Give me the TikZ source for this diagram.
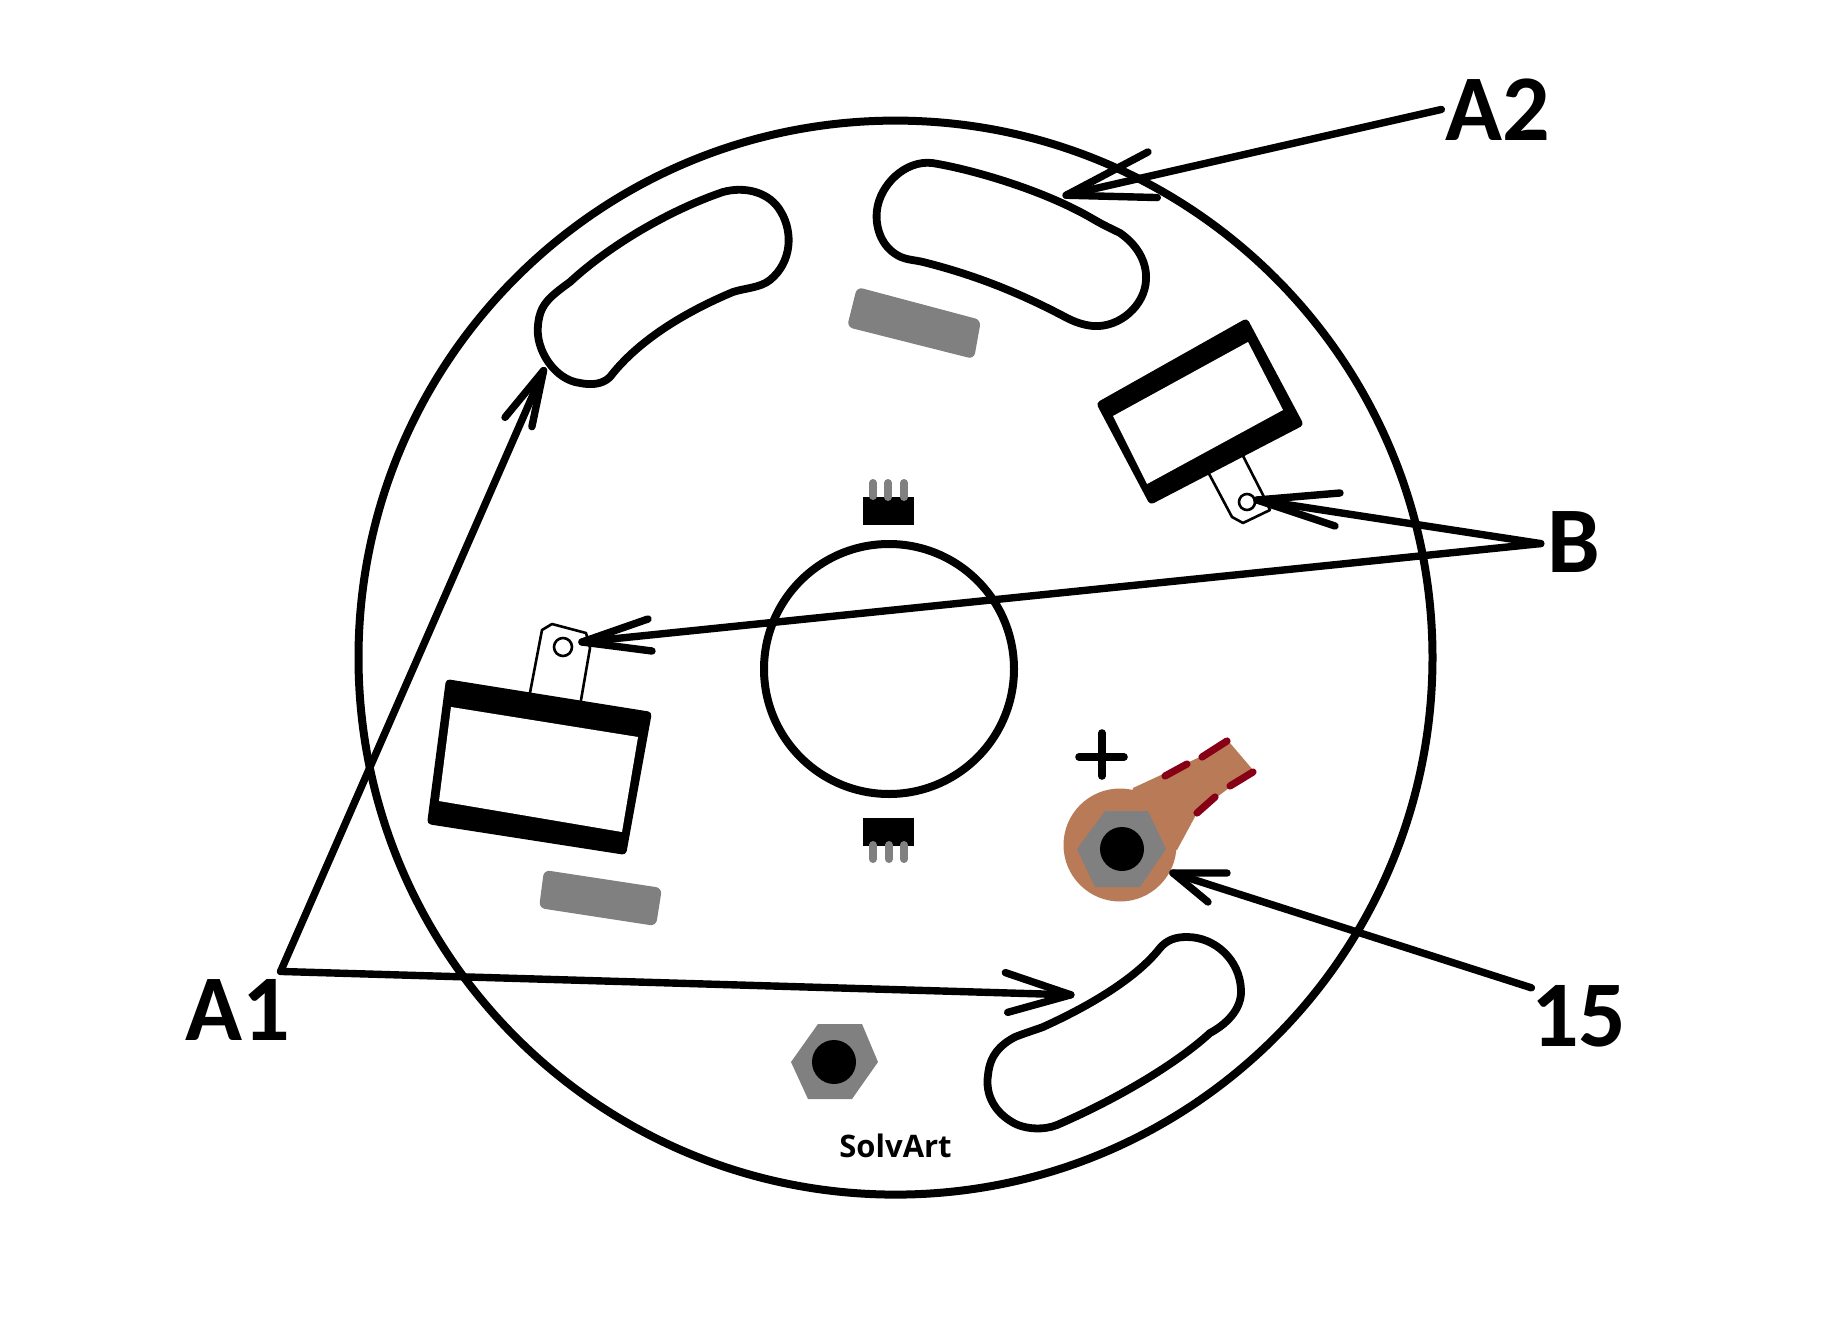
\documentclass[tikz,border=0pt]{standalone}
\usepackage{fontspec}
\setmainfont{Carlito}
\newfontfamily\solvfont{Open Sans}
\tikzset{
  real/.style={x=0.5pt,y=-0.5pt},
  disp/.style={x=0.5845pt,y=-0.5845pt},
  ring/.style={draw=black,line width=4pt},
  slot/.style={draw=black,line width=3.9pt,line join=round},
  bigtext/.style={font=\fontsize{47}{47}\selectfont\bfseries,inner sep=2pt,text=black},
  arrowline/.style={draw=black,line width=3.7pt,line cap=round,line join=round},
  tab/.style={draw=black,line width=1.3pt,line join=round},
  pin/.style={draw=pingray,line width=4pt,line cap=round},
  padgray/.style={fill=pingray,rounded corners=3pt},
  crimp/.style={draw=crimpred,line width=3.6pt,line cap=round}
}
\definecolor{pingray}{HTML}{808080}
\definecolor{lugbrown}{HTML}{B97A57}
\definecolor{crimpred}{HTML}{880015}
\begin{document}
\begin{tikzpicture}[real]
\useasboundingbox (0,0) rectangle (1832,1338);
\fill[white] (0,0) rectangle (1832,1338);
% plate
\node[circle,ring,minimum size=1074pt*0.5,inner sep=0pt] (plate) at (895.5,657.6) {};
\node[circle,ring,minimum size=250pt*0.5,inner sep=0pt] (bore) at (889,669) {};
% slots
\draw[slot] (723,192) .. controls (745,186) and (770,192) .. (781,212) .. controls (793,232) and (792,262) .. (770,280)
 .. controls (760,288) and (745,288) .. (733,292) .. controls (690,310) and (640,338) .. (610,377)
 .. controls (602,385) and (590,385) .. (580,383) .. controls (555,380) and (535,350) .. (538,325)
 .. controls (540,305) and (548,298) .. (570,282) .. controls (610,245) and (670,210) .. (723,192) -- cycle;
\draw[slot] (932,163) .. controls (965,168) and (1040,188) .. (1093,219) .. controls (1103,225) and (1112,229) .. (1120,233)
 .. controls (1140,247) and (1147,265) .. (1146,280) .. controls (1145,305) and (1120,328) .. (1093,326)
 .. controls (1083,325) and (1075,322) .. (1067,318) .. controls (1020,293) and (975,275) .. (923,262)
 .. controls (915,260) and (905,260) .. (897,255) .. controls (880,245) and (875,225) .. (877,210)
 .. controls (880,185) and (905,160) .. (932,163) -- cycle;
\draw[slot] (1187,937) .. controls (1215,937) and (1240,960) .. (1241,990) .. controls (1242,1010) and (1225,1025) .. (1210,1033)
 .. controls (1175,1065) and (1115,1100) .. (1057,1125) .. controls (1045,1130) and (1025,1130) .. (1012,1122)
 .. controls (995,1112) and (985,1095) .. (988,1075) .. controls (990,1055) and (1000,1045) .. (1015,1037)
 .. controls (1025,1033) and (1035,1030) .. (1043,1027) .. controls (1085,1008) and (1135,980) .. (1160,948)
 .. controls (1167,940) and (1175,937) .. (1187,937) -- cycle;
% gray pads
\fill[padgray] (857,287)--(981,320)--(974,359)--(847,327)--cycle;
\fill[padgray] (544,870)--(662,888)--(656,926)--(539,908)--cycle;
% chips
\fill[black] (863,497) rectangle (914,525);
\draw[pin] (873,483)--(873,496);
\draw[pin] (888,483)--(888,497);
\draw[pin] (904,483)--(904,497);
\fill[black] (863,818) rectangle (914,845.6);
\draw[pin] (873,845)--(873,859);
\draw[pin] (889,845)--(889,859);
\draw[pin] (904,845)--(904,859);
% right relay
\draw[tab] (1207,470)--(1232,517)--(1243,523)--(1270,510)--(1263,495)--(1241,452);
\fill[black,rounded corners=2pt] (1247,318)--(1304,425)--(1150,505)--(1096,403)--cycle;
\fill[white] (1248,342)--(1283,410)--(1147,484)--(1113,416)--cycle;
\draw[tab] (1247,502) circle (8);
% left relay
\draw[tab] (529,698)--(542,630)--(552,624)--(586,633)--(590,648)--(580,706);
\fill[black,rounded corners=2pt] (446,679)--(652,712)--(626,855)--(427,824)--cycle;
\fill[white] (451,707)--(638,737)--(622,832)--(439,801)--cycle;
\draw[tab] (563,647) circle (9);
% lug
\fill[lugbrown] (1120,845) circle (56.5);
\fill[lugbrown] (1133,788)--(1230,743)--(1253,770)--(1217,797)--(1197,813)--(1177,850)--(1120,845)--cycle;
\draw[crimp] (1165,776)--(1187,764);
\draw[crimp] (1202,757)--(1227,741);
\draw[crimp] (1230,786)--(1253,772);
\draw[crimp] (1197,813)--(1215,797);
\fill[pingray] (1077,849)--(1105,811)--(1148,811)--(1166,849)--(1140,887)--(1095,887)--cycle;
\fill[black] (1122,849) circle (22);
\draw[black,line width=3.8pt,line cap=round] (1079,757)--(1124,757);
\draw[black,line width=3.8pt,line cap=round] (1102,733)--(1102,776);
% lower nut
\fill[pingray] (791,1062)--(818,1024)--(862,1024)--(878,1062)--(852,1099)--(808,1099)--cycle;
\fill[black] (834,1062) circle (22);
\node[anchor=base west,inner sep=0pt,font=\solvfont\fontsize{15.5}{15.5}\selectfont\bfseries] (brand) at (839,1157) {SolvArt};
% labels
\begin{scope}[disp]
\node[bigtext,anchor=base west] (lA2) at (1233,120) {A2};
\node[bigtext,anchor=base west] (lB) at (1320,490) {B};
\node[bigtext,anchor=base west] (l15) at (1306,895) {15};
\node[bigtext,anchor=base west] (lA1) at (155,890) {A1};
\coordinate (tA2) at (912,167);
\coordinate (bA2a) at (982,130);
\coordinate (bA2b) at (990,169);
\coordinate (jB) at (1318,465);
\coordinate (jA1) at (240,831);
\coordinate (tA1u) at (465,317);
\coordinate (bA1ua) at (432,357);
\coordinate (bA1ub) at (455,365);
\coordinate (tA1r) at (916,851);
\coordinate (bA1ra) at (860,832);
\coordinate (bA1rb) at (862,866);
\coordinate (s15) at (1310,845);
\draw[arrowline] (lA2.west) -- (tA2);
\draw[arrowline] (bA2a) -- (tA2) -- (bA2b);
\draw[arrowline] (jA1) -- (tA1u);
\draw[arrowline] (bA1ua) -- (tA1u) -- (bA1ub);
\draw[arrowline] (jA1) -- (tA1r);
\draw[arrowline] (bA1ra) -- (tA1r) -- (bA1rb);
\end{scope}
\coordinate (tBr) at (1257,500);
\coordinate (bBra) at (1340,493);
\coordinate (bBrb) at (1335,526);
\coordinate (tBl) at (582,642);
\coordinate (bBla) at (648,619);
\coordinate (bBlb) at (652,651);
\coordinate (t15) at (1173,873);
\coordinate (b15a) at (1227,873);
\coordinate (b15b) at (1208,902);
\draw[arrowline] (jB) -- (tBr);
\draw[arrowline] (bBra) -- (tBr) -- (bBrb);
\draw[arrowline] (jB) -- (tBl);
\draw[arrowline] (bBla) -- (tBl) -- (bBlb);
\draw[arrowline] (s15) -- (t15);
\draw[arrowline] (b15a) -- (t15) -- (b15b);
\end{tikzpicture}
\end{document}
